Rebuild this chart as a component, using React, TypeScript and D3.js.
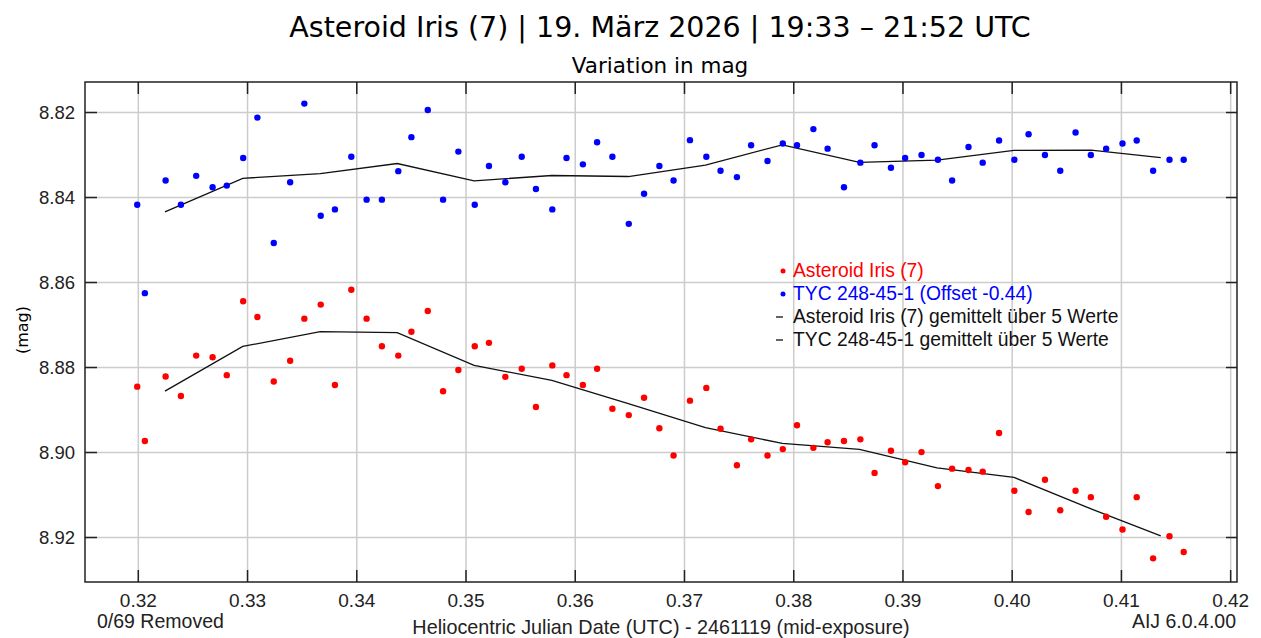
import { line, scaleLinear, select } from 'd3'
import { useEffect, useRef } from 'react'

// heliocentric JD - 2461119 (same for both series)
const hjd = [
  0.3199, 0.3206, 0.3225, 0.3239, 0.3253, 0.3268, 0.3281, 0.3296, 0.3309, 0.3324,
  0.3339, 0.3352, 0.3367, 0.338, 0.3395, 0.3409, 0.3423, 0.3438, 0.345, 0.3465,
  0.3479, 0.3493, 0.3508, 0.3521, 0.3536, 0.3551, 0.3564, 0.3579, 0.3592, 0.3607,
  0.362, 0.3634, 0.3649, 0.3663, 0.3677, 0.369, 0.3705, 0.372, 0.3733, 0.3748,
  0.3761, 0.3776, 0.379, 0.3803, 0.3818, 0.3831, 0.3846, 0.3861, 0.3874, 0.3889,
  0.3902, 0.3917, 0.3932, 0.3945, 0.396, 0.3973, 0.3988, 0.4002, 0.4015, 0.403,
  0.4044, 0.4058, 0.4072, 0.4086, 0.4101, 0.4114, 0.4129, 0.4144, 0.4157,
]

const irisMag = [
  8.8845, 8.8973, 8.8821, 8.8867, 8.8772, 8.8776, 8.8818, 8.8644, 8.8681, 8.8833,
  8.8784, 8.8685, 8.8652, 8.8841, 8.8617, 8.8685, 8.875, 8.8772, 8.8716, 8.8667,
  8.8856, 8.8806, 8.875, 8.8742, 8.8822, 8.8803, 8.8893, 8.8795, 8.8818, 8.8841,
  8.8803, 8.8897, 8.8912, 8.8871, 8.8943, 8.9007, 8.8878, 8.8848, 8.8944, 8.903,
  8.8969, 8.9007, 8.8992, 8.8936, 8.8989, 8.8976, 8.8973, 8.8969, 8.9048, 8.8996,
  8.9023, 8.8999, 8.9079, 8.9038, 8.9041, 8.9045, 8.8954, 8.909, 8.914, 8.9064,
  8.9136, 8.909, 8.9105, 8.9151, 8.9181, 8.9105, 8.9249, 8.9197, 8.9234,
]

const tycMag = [
  8.8417, 8.8625, 8.836, 8.8417, 8.8349, 8.8376, 8.8372, 8.8307, 8.8212, 8.8507,
  8.8364, 8.8179, 8.8443, 8.8428, 8.8304, 8.8405, 8.8405, 8.8338, 8.8258, 8.8194,
  8.8405, 8.8292, 8.8417, 8.8326, 8.8364, 8.8304, 8.838, 8.8428, 8.8307, 8.8322,
  8.827, 8.8304, 8.8462, 8.8391, 8.8326, 8.836, 8.8265, 8.8304, 8.8337, 8.8352,
  8.8277, 8.8314, 8.8273, 8.8277, 8.8239, 8.8285, 8.8376, 8.8318, 8.8277, 8.833,
  8.8307, 8.83, 8.8311, 8.836, 8.8281, 8.8318, 8.8266, 8.8311, 8.8251, 8.83,
  8.8337, 8.8247, 8.83, 8.8285, 8.8273, 8.8266, 8.8337, 8.8311, 8.8311,
]

const xTicks = [0.32, 0.33, 0.34, 0.35, 0.36, 0.37, 0.38, 0.39, 0.4, 0.41, 0.42]
const yTicks = [8.82, 8.84, 8.86, 8.88, 8.9, 8.92]
const binSize = 5

const title = 'Asteroid Iris (7) | 19. März 2026 | 19:33 – 21:52 UTC'
const subtitle = 'Variation in mag'
const legendLabels = [
  'Asteroid Iris (7)',
  'TYC 248-45-1 (Offset -0.44)',
  'Asteroid Iris (7) gemittelt über 5 Werte',
  'TYC 248-45-1 gemittelt über 5 Werte',
]

// average consecutive groups of n points (AIJ binning)
function binned(xs: number[], ys: number[], n: number) {
  const out: [number, number][] = []
  for (let i = 0; i < xs.length; i += n) {
    const gx = xs.slice(i, i + n)
    const gy = ys.slice(i, i + n)
    out.push([gx.reduce((a, b) => a + b, 0) / gx.length, gy.reduce((a, b) => a + b, 0) / gy.length])
  }
  return out
}

export default function App() {
  const svgRef = useRef<SVGSVGElement>(null)

  useEffect(() => {
    const svg = select(svgRef.current)
    svg.selectAll('*').remove()

    const left = 85
    const right = 1237
    const top = 82
    const bottom = 582

    const x = scaleLinear().domain([0.31512, 0.42058]).range([left, right])
    const y = scaleLinear().domain([8.81282, 8.93047]).range([top, bottom])

    const sans = 'Liberation Sans, Arial, Helvetica, sans-serif'
    const dejavu = 'DejaVu Sans, sans-serif'

    svg.append('rect').attr('width', 1261).attr('height', 638).attr('fill', '#fff')

    // title
    svg
      .append('text')
      .attr('x', 660)
      .attr('y', 37)
      .attr('text-anchor', 'middle')
      .style('font-family', dejavu)
      .style('font-size', '28.5px')
      .text(title)
    svg
      .append('text')
      .attr('x', 660)
      .attr('y', 73)
      .attr('text-anchor', 'middle')
      .style('font-family', dejavu)
      .style('font-size', '21.5px')
      .text(subtitle)

    // grid
    const grid = svg.append('g').attr('stroke', '#cccccc').attr('stroke-width', 1.5)
    xTicks.forEach((t) => {
      grid.append('line').attr('x1', x(t)).attr('x2', x(t)).attr('y1', top).attr('y2', bottom)
    })
    yTicks.forEach((t) => {
      grid.append('line').attr('x1', left).attr('x2', right).attr('y1', y(t)).attr('y2', y(t))
    })

    // ticks
    const ticks = svg.append('g').attr('stroke', '#222').attr('stroke-width', 1.5)
    xTicks.forEach((t) => {
      ticks.append('line').attr('x1', x(t)).attr('x2', x(t)).attr('y1', top).attr('y2', top + 12)
      ticks.append('line').attr('x1', x(t)).attr('x2', x(t)).attr('y1', bottom).attr('y2', bottom - 12)
    })
    yTicks.forEach((t) => {
      ticks.append('line').attr('x1', left).attr('x2', left + 12).attr('y1', y(t)).attr('y2', y(t))
      ticks.append('line').attr('x1', right).attr('x2', right - 11).attr('y1', y(t)).attr('y2', y(t))
    })

    // tick labels
    xTicks.forEach((t) => {
      svg
        .append('text')
        .attr('x', x(t))
        .attr('y', 607)
        .attr('text-anchor', 'middle')
        .style('font-family', sans)
        .style('font-size', '19px')
        .attr('fill', '#222')
        .text(t.toFixed(2))
    })
    yTicks.forEach((t) => {
      svg
        .append('text')
        .attr('x', 75)
        .attr('y', y(t) + 6.5)
        .attr('text-anchor', 'end')
        .style('font-family', sans)
        .style('font-size', '18.5px')
        .attr('fill', '#222')
        .text(t.toFixed(2))
    })

    svg
      .append('text')
      .attr('transform', 'translate(28,330) rotate(-90)')
      .attr('text-anchor', 'middle')
      .style('font-family', dejavu)
      .style('font-size', '16px')
      .text('(mag)')

    // averaged lines
    const path = line<[number, number]>()
      .x((d) => x(d[0]))
      .y((d) => y(d[1]))
    ;[irisMag, tycMag].forEach((mags) => {
      svg
        .append('path')
        .attr('d', path(binned(hjd, mags, binSize)))
        .attr('fill', 'none')
        .attr('stroke', '#111')
        .attr('stroke-width', 1.3)
    })

    // points
    const pts = svg.append('g')
    hjd.forEach((t, i) => {
      pts.append('circle').attr('cx', x(t)).attr('cy', y(tycMag[i])).attr('r', 3.2).attr('fill', '#0000ff')
      pts.append('circle').attr('cx', x(t)).attr('cy', y(irisMag[i])).attr('r', 3.2).attr('fill', '#ff0000')
    })

    // frame
    svg
      .append('rect')
      .attr('x', left)
      .attr('y', top)
      .attr('width', right - left)
      .attr('height', bottom - top)
      .attr('fill', 'none')
      .attr('stroke', '#222')
      .attr('stroke-width', 1.5)

    // legend
    const colors = ['#ff0000', '#0000ff', '#111', '#111']
    legendLabels.forEach((label, i) => {
      const cy = 270 + i * 23
      if (i < 2) {
        svg.append('circle').attr('cx', 783).attr('cy', cy + 1).attr('r', 2.5).attr('fill', colors[i])
      } else {
        svg
          .append('line')
          .attr('x1', 776)
          .attr('x2', 783)
          .attr('y1', cy + 1)
          .attr('y2', cy + 1)
          .attr('stroke', '#111')
          .attr('stroke-width', 1.3)
      }
      svg
        .append('text')
        .attr('x', 793)
        .attr('y', cy + 7)
        .style('font-family', sans)
        .style('font-size', '19.3px')
        .attr('fill', colors[i])
        .text(label)
    })

    // footer
    svg
      .append('text')
      .attr('x', 97)
      .attr('y', 628)
      .style('font-family', sans)
      .style('font-size', '19.5px')
      .attr('fill', '#222')
      .text('0/69 Removed')
    svg
      .append('text')
      .attr('x', 661)
      .attr('y', 634)
      .attr('text-anchor', 'middle')
      .style('font-family', sans)
      .style('font-size', '19.8px')
      .attr('fill', '#222')
      .text('Heliocentric Julian Date (UTC) - 2461119 (mid-exposure)')
    svg
      .append('text')
      .attr('x', 1236)
      .attr('y', 628)
      .attr('text-anchor', 'end')
      .style('font-family', sans)
      .style('font-size', '19.5px')
      .attr('fill', '#222')
      .text('AIJ 6.0.4.00')
  }, [])

  return (
    <svg
      ref={svgRef}
      width={1261}
      height={638}
      style={{ position: 'absolute', left: 0, top: 0 }}
    />
  )
}
